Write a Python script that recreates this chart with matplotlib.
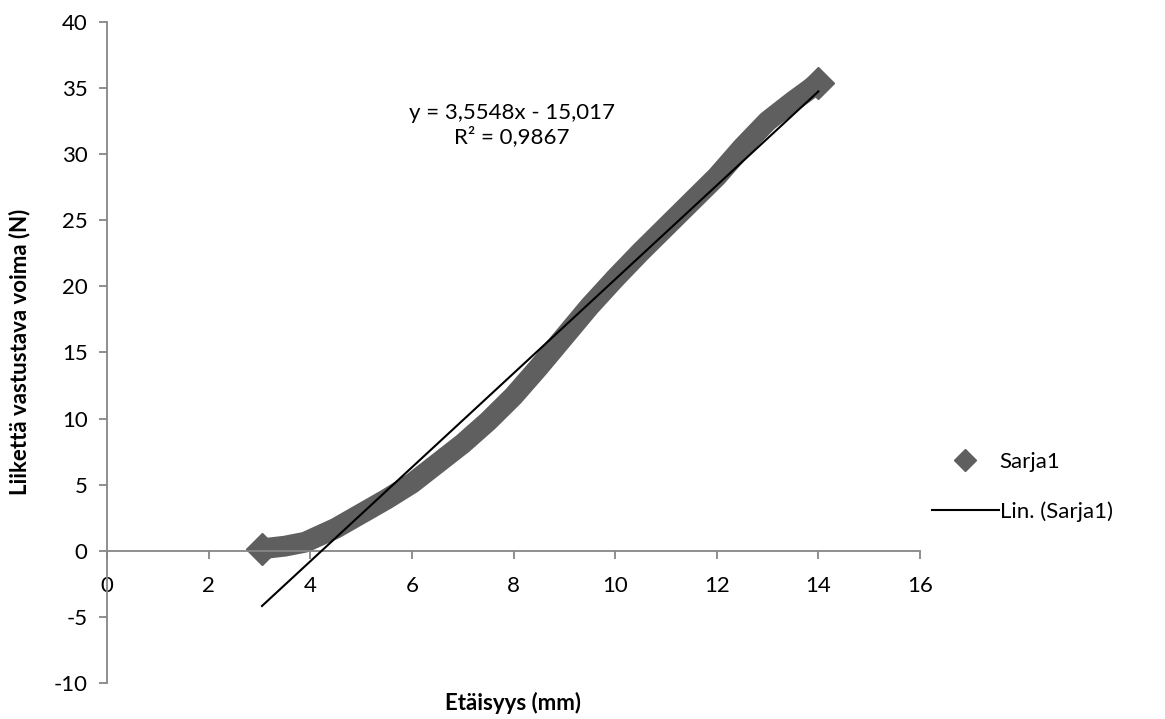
import matplotlib
matplotlib.use("Agg")
import matplotlib.pyplot as plt
from matplotlib.lines import Line2D
import numpy as np

# Data
distance_mm = [3.05, 3.5, 3.9, 4.5, 5.0, 5.5, 6.0, 6.5, 7.0, 7.5, 8.0, 8.5,
               9.0, 9.5, 10.0, 10.5, 11.0, 11.5, 12.0, 12.5, 13.0, 13.5, 14.0]
force_N = [0.15, 0.35, 0.65, 1.7, 2.8, 3.9, 5.1, 6.6, 8.1, 9.8, 11.7, 13.9,
           16.2, 18.5, 20.6, 22.6, 24.5, 26.4, 28.3, 30.5, 32.5, 34.0, 35.4]
slope, intercept = 3.5548, -15.017
equation_text = "y = 3,5548x - 15,017\nR² = 0,9867"
series_name = "Sarja1"
trend_name = "Lin. (Sarja1)"
x_ticks = [0, 2, 4, 6, 8, 10, 12, 14, 16]
y_ticks = [-10, -5, 0, 5, 10, 15, 20, 25, 30, 35, 40]

plt.rcParams['font.family'] = ['Lato', 'DejaVu Sans']
plt.rcParams['axes.unicode_minus'] = False

fig = plt.figure(figsize=(11.65, 7.19), dpi=100)
ax = fig.add_axes([107/1165, 1-683/719, (920-107)/1165, (683-22)/719])

grey = '#868686'
band = '#5f5f5f'
fs = 16

ax.plot(distance_mm, force_N, color=band, lw=15, solid_joinstyle='round',
        solid_capstyle='butt', zorder=2)
ax.plot([distance_mm[0], distance_mm[-1]], [force_N[0], force_N[-1]],
        linestyle='none', marker='D', markersize=16, color=band, zorder=2)

xt = np.array([distance_mm[0], distance_mm[-1]])
ax.plot(xt, slope*xt + intercept, color='black', lw=1.5, zorder=3)

ax.set_xlim(0, 16)
ax.set_ylim(-10, 40)
ax.set_xticks(x_ticks)
ax.set_yticks(y_ticks)
ax.spines['top'].set_visible(False)
ax.spines['right'].set_visible(False)
ax.spines['bottom'].set_position(('data', 0))
for s in ['left', 'bottom']:
    ax.spines[s].set_color(grey)
    ax.spines[s].set_linewidth(1.3)
ax.tick_params(axis='both', colors=grey, labelcolor='black', labelsize=fs,
               length=6, width=1.3, direction='out')
ax.tick_params(axis='x', pad=12)
ax.tick_params(axis='y', pad=8)

ax.text(7.97, 32.2, equation_text, ha='center', va='center', fontsize=fs,
        linespacing=1.15)

fig.text(513/1165, 1-703/719, "Etäisyys (mm)", ha='center', va='center',
         fontsize=fs, fontweight='bold')
fig.text(20/1165, 1-352/719, "Liikettä vastustava voima (N)", ha='center',
         va='center', rotation=90, fontsize=fs, fontweight='bold')

handles = [Line2D([], [], linestyle='none', marker='D', markersize=11, color=band),
           Line2D([], [], color='black', lw=1.5)]
fig.legend(handles, [series_name, trend_name], loc='center left',
           bbox_to_anchor=(912/1165, 1-487/719), frameon=False, fontsize=fs,
           handlelength=3.0, handletextpad=0.05, labelspacing=1.3)

fig.savefig("out.png", dpi=100)
